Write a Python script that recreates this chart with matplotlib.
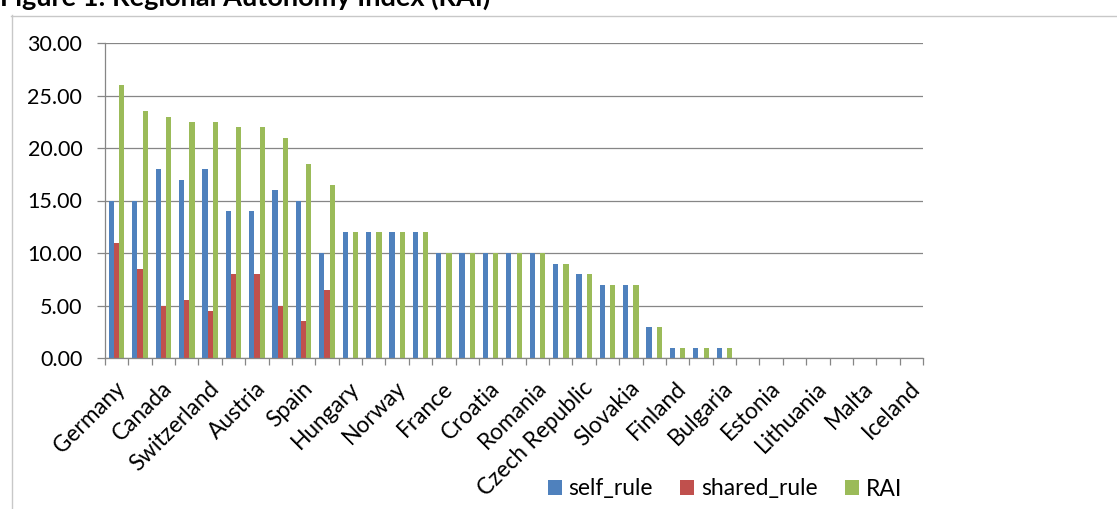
import matplotlib
matplotlib.use("Agg")
import matplotlib.pyplot as plt
import numpy as np
from matplotlib.patches import Patch
from matplotlib.lines import Line2D
from matplotlib.transforms import ScaledTranslation

# ---- data ----
# Excel shows only every other category label; hidden ones are left blank.
categories = ["Germany", "", "Canada", "", "Switzerland", "", "Austria", "",
              "Spain", "", "Hungary", "", "Norway", "", "France", "",
              "Croatia", "", "Romania", "", "Czech Republic", "", "Slovakia", "",
              "Finland", "", "Bulgaria", "", "Estonia", "", "Lithuania", "",
              "Malta", "", "Iceland"]
self_rule = [15, 15, 18, 17, 18, 14, 14, 16, 15, 10,
             12, 12, 12, 12, 10, 10, 10, 10, 10, 9,
             8, 7, 7, 3, 1, 1, 1, 0, 0, 0,
             0, 0, 0, 0, 0]
shared_rule = [11, 8.5, 5, 5.5, 4.5, 8, 8, 5, 3.5, 6.5,
               0, 0, 0, 0, 0, 0, 0, 0, 0, 0,
               0, 0, 0, 0, 0, 0, 0, 0, 0, 0,
               0, 0, 0, 0, 0]
rai = [26, 23.5, 23, 22.5, 22.5, 22, 22, 21, 18.5, 16.5,
       12, 12, 12, 12, 10, 10, 10, 10, 10, 9,
       8, 7, 7, 3, 1, 1, 1, 0, 0, 0,
       0, 0, 0, 0, 0]
series_names = ["self_rule", "shared_rule", "RAI"]
title = "Figure 1: Regional Autonomy Index (RAI)"
y_ticks = [0, 5, 10, 15, 20, 25, 30]

# ---- style ----
plt.rcParams['font.family'] = ['Lato', 'DejaVu Sans']
colors = ["#4F81BD", "#C0504D", "#9BBB59"]
grid_c = "#868686"
W, H = 1117, 509
DPI = 100
fig = plt.figure(figsize=(W / DPI, H / DPI), dpi=DPI)

# chart-area border (left and top edges visible)
border_c = "#C8C8C8"
fig.add_artist(Line2D([11.5 / W, 11.5 / W], [1 - 15 / H, -0.1], color=border_c, lw=1.0))
fig.add_artist(Line2D([11 / W, 1.1], [1 - 15.5 / H, 1 - 15.5 / H], color=border_c, lw=1.0))

fig.text(0 / W, 1 - 6 / H, title, fontsize=19.5, fontweight='bold', va='baseline', ha='left')

left, right, top, bottom = 105, 923, 43, 358
ax = fig.add_axes([left / W, 1 - bottom / H, (right - left) / W, (bottom - top) / H])

n = len(categories)
x = np.arange(n)
bw = 1 / 4.5
for i, (vals, c) in enumerate(zip([self_rule, shared_rule, rai], colors)):
    ax.bar(x + (i - 1) * bw, vals, width=bw, color=c, label=series_names[i],
           edgecolor='none', zorder=3)

ax.set_xlim(-0.5, n - 0.5)
ax.set_ylim(0, 30)
ax.set_yticks(y_ticks)
ax.set_yticklabels([f"{v:.2f}" for v in y_ticks])
ax.yaxis.grid(True, color=grid_c, lw=0.9, zorder=0)
ax.set_axisbelow(True)
for s in ["top", "right"]:
    ax.spines[s].set_visible(False)
for s in ["left", "bottom"]:
    ax.spines[s].set_color(grid_c)
    ax.spines[s].set_linewidth(0.9)
    ax.spines[s].set_zorder(4)

ax.tick_params(axis='y', length=5.8, width=0.9, color=grid_c, pad=10.5, labelsize=15.5)
shown = [i for i in range(n) if categories[i]]
ax.set_xticks(shown)
ax.set_xticklabels([categories[i] for i in shown], rotation=45, ha='right',
                   va='top', rotation_mode='anchor', fontsize=16.3)
ax.set_xticks(np.arange(-0.5, n, 1.0), minor=True)
ax.tick_params(axis='x', which='major', length=0, pad=14)
ax.tick_params(axis='x', which='minor', length=5.2, width=0.9, color=grid_c)
off = ScaledTranslation(-2 / DPI, 0, fig.dpi_scale_trans)
for lab in ax.get_xticklabels():
    lab.set_transform(lab.get_transform() + off)

handles = [Patch(facecolor=c, edgecolor='none') for c in colors]
fig.legend(handles, series_names, loc='center', bbox_to_anchor=(725 / W, 1 - 489 / H),
           ncol=3, frameon=False, fontsize=16.5, handlelength=0.6, handleheight=0.6,
           handletextpad=0.3, columnspacing=1.2, borderpad=0)

fig.savefig("out.png", dpi=DPI)
